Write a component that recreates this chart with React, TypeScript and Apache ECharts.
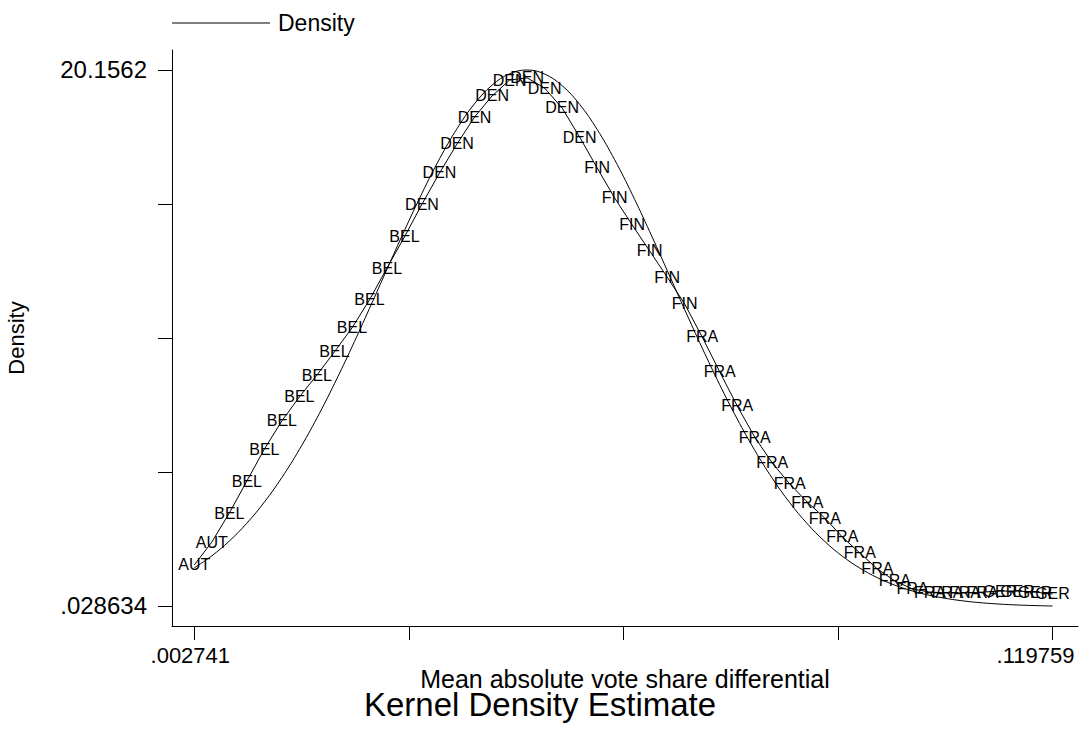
import React, { useEffect, useRef } from "react";
import * as echarts from "echarts";

// evaluation grid (Mean absolute vote share differential)
const xGrid = [
  0.002741, 0.005129, 0.007517, 0.009905, 0.012293, 0.014682, 0.01707, 0.019458, 0.021846, 0.024234,
  0.026622, 0.02901, 0.031398, 0.033787, 0.036175, 0.038563, 0.040951, 0.043339, 0.045727, 0.048115,
  0.050503, 0.052892, 0.05528, 0.057668, 0.060056, 0.062444, 0.064832, 0.06722, 0.069608, 0.071996,
  0.074385, 0.076773, 0.079161, 0.081549, 0.083937, 0.086325, 0.088713, 0.091101, 0.09349, 0.095878,
  0.098266, 0.100654, 0.103042, 0.10543, 0.107818, 0.110206, 0.112595, 0.114983, 0.117371, 0.119759,
];

// country labels attached to each evaluation point
const countryLabels = [
  "AUT", "AUT",
  "BEL", "BEL", "BEL", "BEL", "BEL", "BEL", "BEL", "BEL", "BEL", "BEL", "BEL",
  "DEN", "DEN", "DEN", "DEN", "DEN", "DEN", "DEN", "DEN", "DEN", "DEN",
  "FIN", "FIN", "FIN", "FIN", "FIN", "FIN",
  "FRA", "FRA", "FRA", "FRA", "FRA", "FRA", "FRA", "FRA", "FRA", "FRA", "FRA", "FRA", "FRA", "FRA", "FRA", "FRA", "FRA",
  "GER", "GER", "GER", "GER",
];

// labelled kernel density estimate
const kernelDensity = [
  1.57, 2.43, 3.52, 4.72, 5.92, 6.98, 7.88, 8.7, 9.57, 10.47,
  11.52, 12.72, 13.89, 15.12, 16.29, 17.38, 18.39, 19.18, 19.78, 19.86,
  19.48, 18.73, 17.64, 16.48, 15.35, 14.34, 13.36, 12.38, 11.37, 10.13,
  8.82, 7.54, 6.37, 5.4, 4.61, 3.93, 3.33, 2.62, 2.02, 1.42,
  0.97, 0.67, 0.55, 0.52, 0.52, 0.55, 0.59, 0.59, 0.55, 0.48,
];

// smooth density curve
const smoothDensity = [
  1.4619, 1.9133, 2.468, 3.1374, 3.9307, 4.8535, 5.9063, 7.0836, 8.3729, 9.7538,
  11.1982, 12.6707, 14.1296, 15.5289, 16.8199, 17.9549, 18.8896, 19.5858, 20.0141, 20.1562,
  20.0059, 19.5699, 18.8666, 17.9258, 16.7856, 15.491, 14.0894, 12.6296, 11.1575, 9.7143,
  8.3356, 7.0493, 5.8752, 4.826, 3.9068, 3.1171, 2.4509, 1.8994, 1.4506, 1.0919,
  0.81, 0.5922, 0.4267, 0.3045, 0.2121, 0.1463, 0.0994, 0.0666, 0.044, 0.028634,
];

const yTicks = [0.028634, 5.0605255, 10.092417, 15.1243085, 20.1562];
const yTickLabels = [".028634", "20.1562"];
const xTicks = [0.002741, 0.0319955, 0.06125, 0.0905045, 0.119759];
const xTickLabels = [".002741", ".119759"];

const xTitle = "Mean absolute vote share differential";
const yTitle = "Density";
const mainTitle = "Kernel Density Estimate";
const legendText = "Density";

const FONT = "Liberation Sans, Arial, Helvetica, sans-serif";

export default function App() {
  const ref = useRef<HTMLDivElement>(null);

  useEffect(() => {
    document.body.style.margin = "0";
    if (!ref.current) return;
    const chart = echarts.init(ref.current, undefined, { renderer: "svg" });

    const kernelData = xGrid.map((x, i) => [x, kernelDensity[i]]);
    const smoothData = xGrid.map((x, i) => [x, smoothDensity[i]]);

    chart.setOption({
      animation: false,
      backgroundColor: "#ffffff",
      textStyle: { fontFamily: FONT, color: "#000" },
      title: {
        text: mainTitle,
        left: "center",
        top: 683,
        textStyle: { fontFamily: FONT, fontSize: 33, fontWeight: "normal", color: "#000" },
      },
      grid: {
        left: 172,
        top: 50,
        right: 2,
        bottom: 104,
        containLabel: false,
        outerBoundsMode: "none",
      },
      xAxis: {
        type: "value",
        min: -0.0003,
        max: 0.123236,
        axisLine: { show: true, onZero: false, lineStyle: { color: "#000", width: 1 } },
        axisTick: {
          show: true,
          length: 14,
          inside: false,
          customValues: xTicks,
          lineStyle: { color: "#000", width: 1 },
        },
        axisLabel: {
          show: true,
          margin: 18,
          customValues: [xTicks[0], xTicks[4]],
          formatter: (v: number) =>
            Math.abs(v - xTicks[0]) < 1e-7 ? "{l|" + xTickLabels[0] + "}" : "{r|" + xTickLabels[1] + "}",
          fontFamily: FONT,
          fontSize: 22,
          color: "#000",
          rich: {
            l: { fontFamily: FONT, fontSize: 22, color: "#000", padding: [0, 8, 0, 0] },
            r: { fontFamily: FONT, fontSize: 22, color: "#000", padding: [0, 34, 0, 0] },
          },
        },
        splitLine: { show: false },
      },
      yAxis: {
        type: "value",
        min: -0.7224,
        max: 20.9072,
        name: yTitle,
        nameLocation: "middle",
        nameGap: 145,
        nameRotate: 90,
        nameTextStyle: { fontFamily: FONT, fontSize: 22, color: "#000" },
        axisLine: { show: true, onZero: false, lineStyle: { color: "#000", width: 1 } },
        axisTick: {
          show: true,
          length: 14,
          inside: false,
          customValues: yTicks,
          lineStyle: { color: "#000", width: 1 },
        },
        axisLabel: {
          show: true,
          margin: 25,
          customValues: [yTicks[0], yTicks[4]],
          formatter: (v: number) => (Math.abs(v - yTicks[0]) < 1e-7 ? yTickLabels[0] : yTickLabels[1]),
          fontFamily: FONT,
          fontSize: 24,
          color: "#000",
        },
        splitLine: { show: false },
      },
      series: [
        {
          name: "Density",
          type: "line",
          data: kernelData,
          symbol: "circle",
          symbolSize: 1,
          itemStyle: { color: "rgba(0,0,0,0)" },
          lineStyle: { color: "#000", width: 1 },
          label: {
            show: true,
            position: "inside",
            formatter: (p: any) => countryLabels[p.dataIndex],
            fontFamily: FONT,
            fontSize: 16,
            color: "#000",
          },
          emphasis: { disabled: true },
          z: 3,
        },
        {
          name: "Smooth density",
          type: "line",
          data: smoothData,
          smooth: 0.4,
          showSymbol: false,
          symbol: "none",
          lineStyle: { color: "#000", width: 1 },
          emphasis: { disabled: true },
          z: 2,
        },
      ],
      graphic: [
        {
          type: "text",
          x: 625,
          y: 679,
          style: {
            text: xTitle,
            fontFamily: FONT,
            fontSize: 25,
            fill: "#000",
            align: "center",
            verticalAlign: "middle",
          },
        },
        {
          type: "line",
          shape: { x1: 172, y1: 23, x2: 270, y2: 23 },
          style: { stroke: "#000", lineWidth: 1 },
        },
        {
          type: "text",
          x: 278,
          y: 23,
          style: {
            text: legendText,
            fontFamily: FONT,
            fontSize: 23,
            fill: "#000",
            verticalAlign: "middle",
            align: "left",
          },
        },
      ],
    });

    return () => chart.dispose();
  }, []);

  return <div ref={ref} style={{ width: 1080, height: 730 }} />;
}
